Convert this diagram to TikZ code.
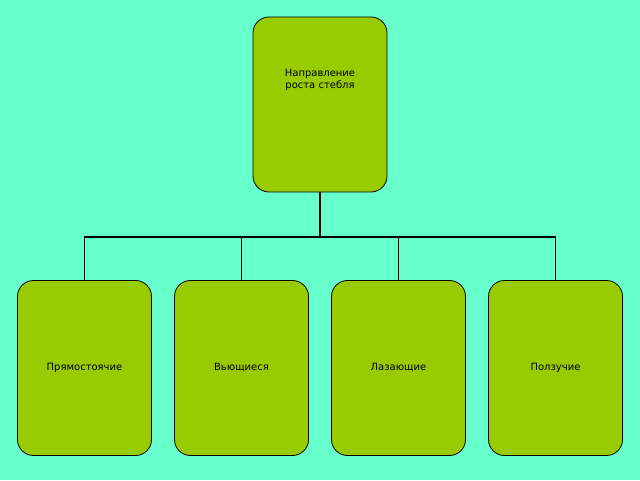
\documentclass[tikz,border=0pt]{standalone}
\usepackage{fontspec}
\setmainfont{DejaVu Sans}
\definecolor{bgcol}{HTML}{66FFCC}
\definecolor{boxcol}{HTML}{99CC00}
\tikzset{
  stembox/.style={draw=black,thick,fill=boxcol,rounded corners=16pt,
    minimum width=134pt,minimum height=175pt,align=center,font=\fontsize{10}{12}\selectfont},
  link/.style={draw,line width=1.6pt}
}
\begin{document}
\begin{tikzpicture}[x=1pt,y=1pt]
  \fill[bgcol] (0,0) rectangle (640,480);
  \useasboundingbox (0,0) rectangle (640,480);
  \node[stembox] (top) at (320,375.5) {Направление\\ роста стебля\\[40pt]};
  \node[stembox] (b1) at (84.5,112) {Прямостоячие};
  \node[stembox] (b2) at (241.5,112) {Вьющиеся};
  \node[stembox] (b3) at (398.5,112) {Лазающие};
  \node[stembox] (b4) at (555.5,112) {Ползучие};
  \coordinate (mid) at (320,243);
  \draw[link] (top.south) -- (mid);
  \draw[link] (b1.north) |- (mid) -| (b4.north);
  \draw[link] (b2.north) -- (b2.north |- mid);
  \draw[link] (b3.north) -- (b3.north |- mid);
\end{tikzpicture}
\end{document}
